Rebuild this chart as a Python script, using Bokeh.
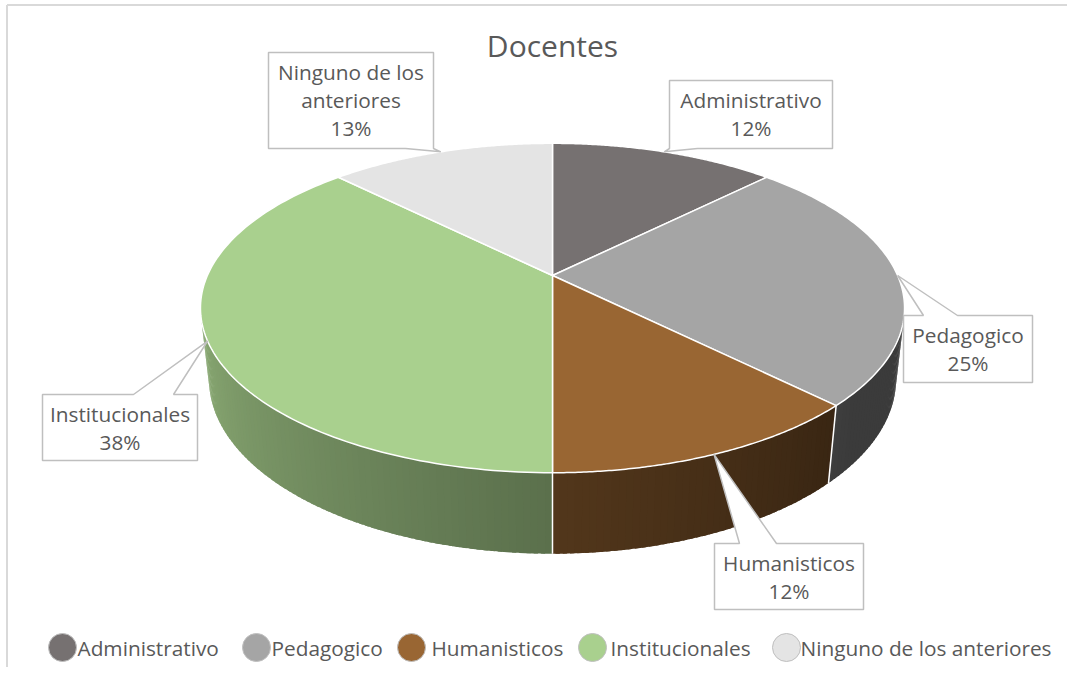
import numpy as np
from bokeh.plotting import figure
from bokeh.models import Range1d
from bokeh.core.properties import value
from bokeh.embed import file_html
from bokeh.resources import INLINE

# ---------------- data ----------------
title_text = "Docentes"
categories = ["Administrativo", "Pedagogico", "Humanisticos", "Institucionales",
              "Ninguno de los anteriores"]
values = [12.5, 25.0, 12.5, 37.5, 12.5]
percent_labels = ["12%", "25%", "12%", "38%", "13%"]
label_names = [["Administrativo"], ["Pedagogico"], ["Humanisticos"],
               ["Institucionales"], ["Ninguno de los", "anteriores"]]
colors = ["#767171", "#A5A5A5", "#996633", "#A9D08E", "#E4E4E4"]

# ---------------- layout ----------------
W, H = 1067, 667
TEXT_COL = "#595959"
FONT = "Open Sans"
LABEL_PX = 20.8
TITLE_PX = 30.0
BASE_SHIFT = 0.43  # em, empirical correction of the rendered baseline

p = figure(width=W, height=H, x_range=Range1d(0, W), y_range=Range1d(H, 0),
           output_backend="svg", toolbar_location=None, x_axis_type=None, y_axis_type=None,
           min_border=0)
p.outline_line_color = None
p.background_fill_color = "white"
p.border_fill_color = "white"

# chart border (left / top)
p.segment(x0=[6.5, 6.5], y0=[4.5, 4.5], x1=[6.5, W], y1=[H, 4.5], line_color="#d9d9d9", line_width=2)

# ---------------- 3D pie projection ----------------
CX, CY = 552.0, 275.0
FOC = 1553.0
DIST = 4.5
ELEV = np.radians(27.3)
THICK = 0.2335
ce, se = np.cos(ELEV), np.sin(ELEV)


def proj(theta_deg, z=0.0):
    t = np.radians(np.asarray(theta_deg, dtype=float))
    X = np.sin(t)
    Y = np.cos(t)
    depth = DIST + Y * ce - z * se
    up = Y * se + z * ce
    return CX + FOC * X / depth, CY - FOC * up / depth


def shade(hex_color, theta):
    k = float(np.clip(0.54 + 0.0036 * (theta - 180.0), 0.36, 0.9))
    r, g, b = (int(hex_color[i:i + 2], 16) for i in (1, 3, 5))
    return "#%02x%02x%02x" % (int(r * k), int(g * k), int(b * k))


total = float(sum(values))
bounds = np.concatenate([[0.0], np.cumsum(values)]) / total * 360.0
n = len(values)

th_lo = np.degrees(np.arccos(-1.0 / (DIST * ce)))
th_hi = 360.0 - th_lo

# walls (shaded, slightly overlapping strips so no seams show)
wall_xs, wall_ys, wall_cols = [], [], []
for i in range(n):
    a0, a1 = max(bounds[i], th_lo), min(bounds[i + 1], th_hi)
    if a1 <= a0:
        continue
    nstrip = max(1, int(np.ceil((a1 - a0) / 1.0)))
    edges = np.linspace(a0, a1, nstrip + 1)
    for j in range(nstrip):
        e0 = edges[j]
        e1 = min(edges[j + 1] + 0.6, a1)
        tt = np.linspace(e0, e1, 3)
        xt, yt = proj(tt, 0.0)
        xb, yb = proj(tt[::-1], -THICK)
        wall_xs.append(list(xt) + list(xb))
        wall_ys.append(list(yt) + list(yb))
        wall_cols.append(shade(colors[i], 0.5 * (edges[j] + edges[j + 1])))
p.patches(wall_xs, wall_ys, fill_color=wall_cols, line_color=None)

# white seams between wall segments
seam_x0, seam_y0, seam_x1, seam_y1 = [], [], [], []
for b in bounds[1:-1]:
    if th_lo < b < th_hi:
        x0, y0 = proj([b], 0.0)
        x1, y1 = proj([b], -THICK)
        seam_x0.append(x0[0]); seam_y0.append(y0[0]); seam_x1.append(x1[0]); seam_y1.append(y1[0])
if seam_x0:
    p.segment(seam_x0, seam_y0, seam_x1, seam_y1, line_color="white", line_width=1.5)

# top faces
top_xs, top_ys = [], []
for i in range(n):
    tt = np.linspace(bounds[i], bounds[i + 1], 120)
    x, y = proj(tt, 0.0)
    top_xs.append([CX] + list(x))
    top_ys.append([CY] + list(y))
p.patches(top_xs, top_ys, fill_color=colors, line_color="white", line_width=1.5,
          line_join="round")

# ---------------- callout labels ----------------
# box (left, top, right, bottom), pointer edge and its base x-range
boxes = [(669, 80, 832, 148, "bottom", 669, 697),
         (903, 315, 1032, 382, "top", 923, 957),
         (714, 543, 863, 609, "top", 739, 776),
         (42, 394, 197, 460, "top", 133, 173),
         (268, 52, 433, 148, "bottom", 405, 433)]

call_xs, call_ys = [], []
tx, ty, tt_text = [], [], []
for i in range(n):
    l, t, r, b, edge, bx0, bx1 = boxes[i]
    mid = 0.5 * (bounds[i] + bounds[i + 1])
    px, py = proj([mid], 0.0)
    px, py = float(px[0]), float(py[0])
    if edge == "top":
        xs = [l, bx0, px, bx1, r, r, l]
        ys = [t, t, py, t, t, b, b]
    else:
        xs = [l, r, r, bx1, px, bx0, l]
        ys = [t, t, b, b, py, b, b]
    call_xs.append(xs)
    call_ys.append(ys)
    lines = label_names[i] + [percent_labels[i]]
    for k, s in enumerate(lines):
        tx.append(0.5 * (l + r))
        ty.append(t + 28 + 28 * k - BASE_SHIFT * LABEL_PX)
        tt_text.append(s)

p.patches(call_xs, call_ys, fill_color="white", line_color="#bfbfbf", line_width=1.5)
p.text(x=tx, y=ty, text=tt_text, text_align="center", text_baseline="alphabetic",
       text_font=value(FONT), text_font_size=f"{LABEL_PX}px", text_color=TEXT_COL)

# ---------------- title ----------------
p.text(x=[552], y=[58 - BASE_SHIFT * TITLE_PX], text=[title_text], text_align="center",
       text_baseline="alphabetic",
       text_font=value(FONT), text_font_size=f"{TITLE_PX}px", text_color=TEXT_COL)

# ---------------- legend ----------------
leg_circle_x = [62, 256, 411, 592, 786]
leg_text_x = [77, 271, 431, 610, 800]
leg_y = 647
p.scatter(x=leg_circle_x, y=[leg_y] * n, marker="circle", size=28, fill_color=colors,
          line_color="#bfbfbf", line_width=1)
p.text(x=leg_text_x, y=[656 - BASE_SHIFT * LABEL_PX] * n, text=categories, text_align="left",
       text_baseline="alphabetic",
       text_font=value(FONT), text_font_size=f"{LABEL_PX}px", text_color=TEXT_COL)

open("out.html", "w").write(file_html(p, INLINE))
